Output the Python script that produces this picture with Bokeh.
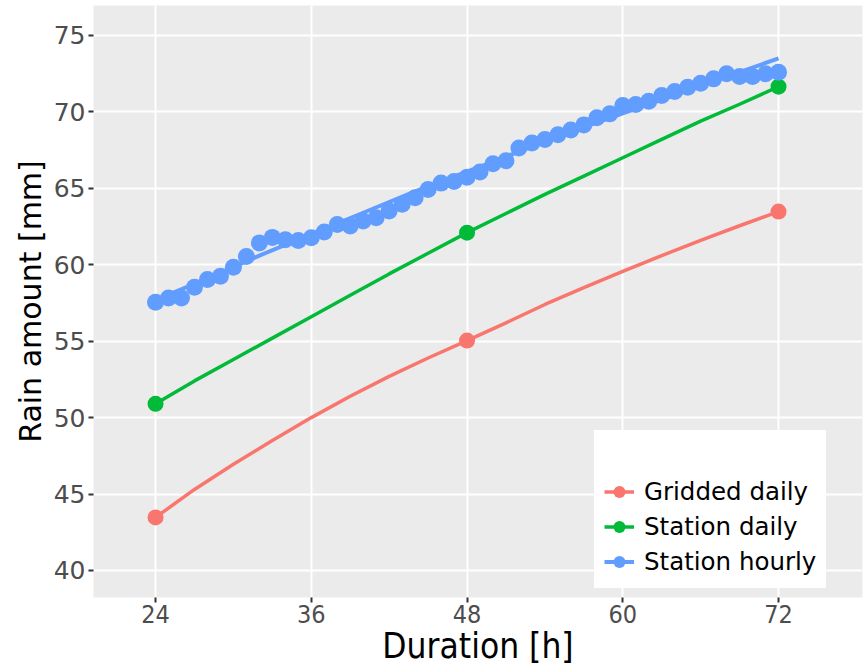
from bokeh.plotting import figure
from bokeh.models import (Range1d, FixedTicker, Legend, LegendItem, ColumnDataSource)
from bokeh.core.properties import value
from bokeh.embed import file_html
from bokeh.resources import INLINE

# ---- data ----
duration_daily = [24, 48, 72]
gridded_daily = [43.47, 55.04, 63.48]
station_daily = [50.9, 62.1, 71.65]

curve_x = [24, 27, 30, 33, 36, 39, 42, 45, 48, 51, 54, 57, 60, 63, 66, 69, 72]
gridded_curve = [43.47, 45.3, 46.95, 48.5, 50.0, 51.4, 52.7, 53.9, 55.04,
                 56.2, 57.4, 58.5, 59.57, 60.6, 61.6, 62.55, 63.48]
station_curve = [50.9, 52.4, 53.8, 55.2, 56.6, 58.0, 59.4, 60.75, 62.1,
                 63.35, 64.6, 65.8, 67.0, 68.2, 69.4, 70.5, 71.65]

hours = list(range(24, 73))
station_hourly = [57.55, 57.83, 57.83, 58.53, 59.03, 59.25, 59.84, 60.54, 61.43, 61.79,
                  61.63, 61.58, 61.77, 62.14, 62.64, 62.53, 62.86, 63.07, 63.51, 63.96,
                  64.38, 64.92, 65.34, 65.44, 65.73, 66.06, 66.60, 66.81, 67.64, 67.96,
                  68.19, 68.50, 68.82, 69.15, 69.61, 69.87, 70.41, 70.48, 70.70, 71.07,
                  71.33, 71.61, 71.88, 72.16, 72.49, 72.31, 72.31, 72.49, 72.60]
hourly_fit_x = [24, 28, 32, 36, 40, 44, 48, 52, 56, 60, 64, 68, 72]
hourly_fit = [57.7, 59.1, 60.6, 62.0, 63.4, 64.8, 66.1, 67.4, 68.7, 69.9, 71.1, 72.3, 73.5]

x_ticks = [24, 36, 48, 60, 72]
y_ticks = [40, 45, 50, 55, 60, 65, 70, 75]

RED = "#F8766D"
GREEN = "#00BA38"
BLUE = "#619CFF"

p = figure(width=864, height=668, output_backend="svg", toolbar_location=None,
           x_range=Range1d(19.22, 78.47), y_range=Range1d(38.23, 76.96),
           background_fill_color="#EBEBEB", border_fill_color="white",
           min_border_left=93, min_border_right=2, min_border_top=5, min_border_bottom=71)
p.outline_line_color = None

# grid
for g in (p.xgrid, p.ygrid):
    g.grid_line_color = "white"
    g.grid_line_width = 2
p.xaxis.ticker = FixedTicker(ticks=x_ticks)
p.yaxis.ticker = FixedTicker(ticks=y_ticks)

for ax in (p.xaxis, p.yaxis):
    ax.axis_line_color = None
    ax.major_tick_line_color = "#333333"
    ax.major_tick_line_width = 2
    ax.major_tick_out = 5
    ax.major_tick_in = 0
    ax.minor_tick_line_color = None
    ax.major_label_text_color = "#4D4D4D"
    ax.axis_label_text_color = "black"
    ax.axis_label_text_font_style = "normal"

p.xaxis.axis_label = "Duration [h]"
p.xaxis.major_label_text_font = "DejaVu Sans Condensed"
p.xaxis.major_label_text_font_size = "25px"
p.xaxis.major_label_standoff = 2
p.xaxis.axis_label_text_font = "DejaVu Sans Condensed"
p.xaxis.axis_label_text_font_size = "35px"
p.xaxis.axis_label_text_line_height = 0.75
p.xaxis.axis_label_standoff = 0

p.yaxis.axis_label = "Rain amount [mm]"
p.yaxis.major_label_text_font = "DejaVu Sans"
p.yaxis.major_label_text_font_size = "25px"
p.yaxis.major_label_standoff = 3
p.yaxis.axis_label_text_font = "DejaVu Sans"
p.yaxis.axis_label_text_font_size = "30px"
p.yaxis.axis_label_standoff = 3

# empty renderer used only for the blank top row of the legend
blank = p.quad(source=ColumnDataSource(data=dict(left=[], right=[], top=[], bottom=[])),
               left="left", right="right", top="top", bottom="bottom",
               fill_color="white", line_color=None)

# curves
r_line = p.line(curve_x, gridded_curve, line_color=RED, line_width=3.5)
g_line = p.line(curve_x, station_curve, line_color=GREEN, line_width=3.5)
b_line = p.line(hourly_fit_x, hourly_fit, line_color=BLUE, line_width=4)

r_pts = p.scatter(duration_daily, gridded_daily, size=16, fill_color=RED, line_color=None)
g_pts = p.scatter(duration_daily, station_daily, size=16, fill_color=GREEN, line_color=None)
b_pts = p.scatter(hours, station_hourly, size=17, fill_color=BLUE, line_color=None)

legend = Legend(items=[
    LegendItem(label=value(" "), renderers=[blank]),
    LegendItem(label=value("Gridded daily"), renderers=[r_line, r_pts]),
    LegendItem(label=value("Station daily"), renderers=[g_line, g_pts]),
    LegendItem(label=value("Station hourly"), renderers=[b_line, b_pts]),
], location=(501, 9))
legend.label_text_font = "DejaVu Sans"
legend.label_text_font_size = "24.5px"
legend.label_text_color = "black"
legend.glyph_width = 30
legend.glyph_height = 33
legend.label_height = 33
legend.label_standoff = 10
legend.spacing = 2
legend.padding = 0
legend.margin = 0
# white border acts as the legend box padding
legend.border_line_color = "white"
legend.border_line_width = 10
legend.background_fill_color = "white"
legend.background_fill_alpha = 1.0
p.add_layout(legend)

open("out.html", "w").write(file_html(p, INLINE))
